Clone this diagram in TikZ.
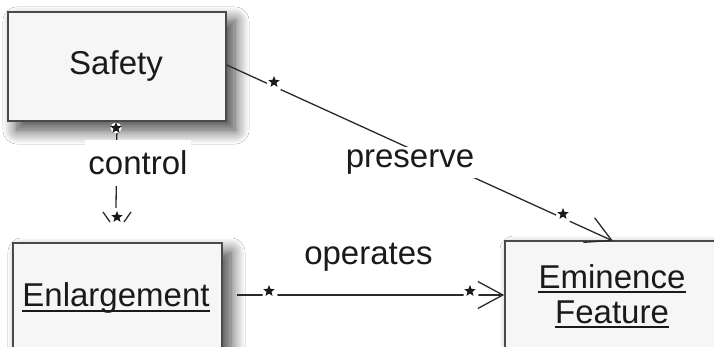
\documentclass[tikz,border=0pt]{standalone}
\usepackage{fontspec}
\setmainfont{Liberation Sans}
\usetikzlibrary{arrows.meta,shapes.geometric,shadows.blur}
\definecolor{boxline}{HTML}{4A4A4A}
\definecolor{boxfill}{HTML}{F6F6F6}
\definecolor{txt}{HTML}{1A1A1A}
\definecolor{lnc}{HTML}{2A2A2A}
\begin{document}
\begin{tikzpicture}[x=1pt,y=-1pt,
  box/.style={draw=boxline, fill=boxfill, line width=1.6pt, inner sep=0pt,
    blur shadow={shadow xshift=9pt, shadow yshift=-9pt, shadow blur radius=14pt, shadow blur steps=12, shadow blur extra rounding=0pt, shadow opacity=75}},
  lbl/.style={font=\fontsize{33}{38}\selectfont, text=txt, inner sep=0pt},
  linelbl/.style={lbl, fill=white, inner sep=3pt},
  conn/.style={draw=lnc, line width=1.3pt},
  openarrow/.style={-{Straight Barb[length=25pt,width=27pt,line width=1.3pt]}},
  gapdot/.style={circle, fill=white, inner sep=0pt, minimum size=#1},
  gapdot/.default=13pt,
  starmk/.style={star, star points=5, star point ratio=2.3, fill=txt, inner sep=0pt, minimum size=12pt},
  uline/.style={draw=txt, line width=1.6pt}
]
\clip (0,0) rectangle (714,347);
\fill[white] (0,0) rectangle (714,347);

% boxes
\node[box, minimum width=218pt, minimum height=109pt] (safety) at (117,66.5) {};
\node[lbl, anchor=base] (safetytxt) at (116,75) {Safety};

\node[box, minimum width=209pt, minimum height=120pt] (enl) at (117.5,303) {};
\node[lbl, anchor=base] (enltxt) at (116,306) {Enlargement};
\draw[uline] ([yshift=-5pt]enltxt.base west) -- ([yshift=-5pt]enltxt.base east);

\node[box, minimum width=240pt, minimum height=160pt] (emi) at (625,321) {};
\node[lbl, anchor=base] (emitxt1) at (612,288) {Eminence};
\draw[uline] ([yshift=-4pt]emitxt1.base west) -- ([yshift=-4pt]emitxt1.base east);
\node[lbl, anchor=base] (emitxt2) at (612,323) {Feature};
\draw[uline] ([yshift=-4pt]emitxt2.base west) -- ([yshift=-4pt]emitxt2.base east);

% control connector
\coordinate (ctrlend) at (116,208);
\draw[conn] (safety.south) -- (ctrlend);
\node[linelbl, anchor=base, inner ysep=11pt] (control) at (138,175) {control};
\node[gapdot=11pt] (g1) at (116,128) {};
\node[starmk] (s1) at (116,128) {};
\draw[conn] (103,212) -- (110,222);
\draw[conn] (131,212) -- (124,222);
\node[gapdot=10pt] (g2) at (117,218) {};
\node[starmk] (s2) at (117,217) {};

% preserve connector
\coordinate (pretip) at (613,241);
\draw[conn, openarrow] (safety.east |- 0,65) -- (pretip);
\node[gapdot=15pt] (g3) at (274,86) {};
\node[starmk] (s3) at (274,82) {};
\node[linelbl, anchor=base] (preserve) at (410,168) {preserve};
\node[gapdot=15pt] (g4) at (563,218) {};
\node[starmk] (s4) at (563,214) {};

% operates connector
\coordinate (opstart) at (237,295);
\coordinate (optip) at (emi.west |- 0,295);
\draw[conn, openarrow] (opstart) -- (optip);
\node[gapdot=15pt] (g5) at (270,295) {};
\node[starmk] (s5) at (269,291) {};
\node[gapdot=15pt] (g6) at (471,295) {};
\node[starmk] (s6) at (470,291) {};
\node[lbl, anchor=base] (operates) at (368.5,265) {operates};
\end{tikzpicture}
\end{document}
